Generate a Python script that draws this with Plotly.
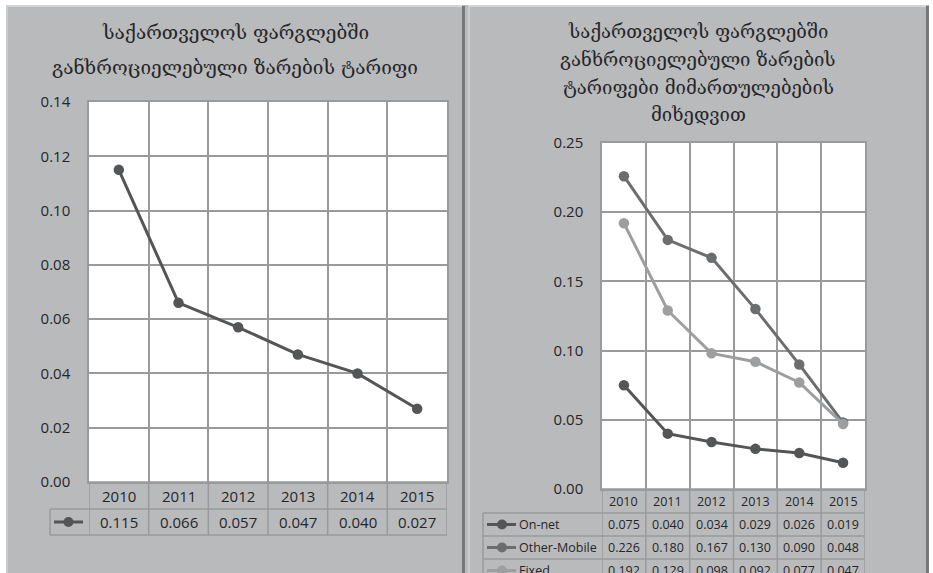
import plotly.graph_objects as go

# ---------------- data ----------------
years = ["2010", "2011", "2012", "2013", "2014", "2015"]
total_tariff = [0.115, 0.066, 0.057, 0.047, 0.040, 0.027]
series_names = ["On-net", "Other-Mobile", "Fixed"]
on_net = [0.075, 0.040, 0.034, 0.029, 0.026, 0.019]
other_mobile = [0.226, 0.180, 0.167, 0.130, 0.090, 0.048]
fixed = [0.192, 0.129, 0.098, 0.092, 0.077, 0.047]
left_title = ["საქართველოს ფარგლებში", "განხროციელებული ზარების ტარიფი"]
right_title = ["საქართველოს ფარგლებში", "განხროციელებული ზარების",
               "ტარიფები მიმართულებების", "მიხედვით"]

# ---------------- styling ----------------
W, H = 933, 573
def px(x):
    return x / W
def py(y):
    return 1 - y / H

PANEL = "#b9babc"
GRID = "#9a9a9c"
TEXT = "#262628"
NUM_FONT = "Open Sans"
GEO_FONT = "DejaVu Serif, DejaVu Sans"
series_colors = ["#545557", "#6c6d6f", "#9d9ea0"]
left_color = "#545557"

fig = go.Figure()

# left chart
fig.add_trace(go.Scatter(
    x=years, y=total_tariff, mode="lines+markers", xaxis="x", yaxis="y",
    line=dict(color=left_color, width=3),
    marker=dict(color=left_color, size=10.5),
    showlegend=False, cliponaxis=False))

# right chart
for name, vals, col in zip(series_names, [on_net, other_mobile, fixed], series_colors):
    fig.add_trace(go.Scatter(
        x=years, y=vals, mode="lines+markers", xaxis="x2", yaxis="y2", name=name,
        line=dict(color=col, width=3),
        marker=dict(color=col, size=10.5),
        showlegend=False, cliponaxis=False))

# axes geometry (pixels)
L = dict(x0=89, x1=447, y0=102, y1=482)
R = dict(x0=602, x1=865, y0=143, y1=489)

common_x = dict(type="category", tickson="boundaries", showgrid=True, gridcolor=GRID,
                gridwidth=1.5, showticklabels=False, ticks="", showline=True,
                linecolor=GRID, linewidth=1.5, mirror=True, zeroline=False,
                fixedrange=True, automargin=False)
common_y = dict(showgrid=True, gridcolor=GRID, gridwidth=1.5, ticks="", showline=True,
                linecolor=GRID, linewidth=1.5, mirror=True, zeroline=False,
                tickformat=".2f", ticklabelstandoff=14, automargin=False,
                tickfont=dict(family=NUM_FONT, size=15, color=TEXT), fixedrange=True)

fig.update_layout(
    width=W, height=H, margin=dict(l=0, r=0, t=0, b=0, pad=0), autosize=False,
    paper_bgcolor="white", plot_bgcolor="white",
    xaxis=dict(domain=[px(L["x0"]), px(L["x1"])], range=[-0.5, len(years) - 0.5], **common_x),
    yaxis=dict(domain=[py(L["y1"]), py(L["y0"])], range=[0, 0.14], dtick=0.02, **common_y),
    xaxis2=dict(domain=[px(R["x0"]), px(R["x1"])], range=[-0.5, len(years) - 0.5],
                anchor="y2", **common_x),
    yaxis2=dict(domain=[py(R["y1"]), py(R["y0"])], range=[0, 0.25], dtick=0.05,
                anchor="x2", **common_y),
)

shapes = []
def pline(x0, y0, x1, y1, color, width, layer="above"):
    shapes.append(dict(type="line", xref="paper", yref="paper", x0=px(x0), x1=px(x1),
                       y0=py(y0), y1=py(y1), line=dict(color=color, width=width), layer=layer))

# panels
shapes.append(dict(type="rect", xref="paper", yref="paper", x0=px(6), x1=px(465),
                   y0=py(H + 5), y1=py(5), fillcolor=PANEL, line=dict(width=0), layer="below"))
shapes.append(dict(type="rect", xref="paper", yref="paper", x0=px(465), x1=px(929),
                   y0=py(H + 5), y1=py(5), fillcolor=PANEL, line=dict(width=0), layer="below"))
# bevel highlights / shadows
for x0, x1 in [(6, 462), (468, 926)]:
    pline(x0, 6, x1, 6, "#d4d5d7", 2, "below")
    pline(x0 + 1, 6, x0 + 1, H + 5, "#cbcccd", 2, "below")
    pline(x1 + 1.5, 6, x1 + 1.5, H + 5, "#77787a", 3, "below")
# white plot areas
for g in (L, R):
    shapes.append(dict(type="rect", xref="paper", yref="paper", x0=px(g["x0"]), x1=px(g["x1"]),
                       y0=py(g["y1"]), y1=py(g["y0"]), fillcolor="white", line=dict(width=0),
                       layer="below"))

# ----- left data table -----
n = len(years)
tl_rows = [482, 509, 535]
for i in range(n + 1):
    shapes.append(dict(type="line", xref="x", yref="paper", x0=i - 0.5, x1=i - 0.5,
                       y0=py(tl_rows[0]), y1=py(tl_rows[-1]), line=dict(color=GRID, width=1.5)))
pline(50, tl_rows[1], 50, tl_rows[2], GRID, 1.5)
for j, yy in enumerate(tl_rows):
    pline(L["x0"] if j == 0 else 50, yy, L["x1"], yy, GRID, 1.5)
# key symbol
pline(54, 522, 83, 522, left_color, 3)
shapes.append(dict(type="circle", xref="paper", yref="paper", x0=px(63.5), x1=px(73.5),
                   y0=py(527), y1=py(517), fillcolor=left_color, line=dict(width=0)))

# ----- right data table -----
tr_rows = [489, 513, 536, 559, 582]
for i in range(n + 1):
    shapes.append(dict(type="line", xref="x2", yref="paper", x0=i - 0.5, x1=i - 0.5,
                       y0=py(tr_rows[0]), y1=py(tr_rows[-1]), line=dict(color=GRID, width=1.5)))
pline(483, tr_rows[1], 483, tr_rows[-1], GRID, 1.5)
for j, yy in enumerate(tr_rows):
    pline(R["x0"] if j == 0 else 483, yy, R["x1"], yy, GRID, 1.5)

annotations = []
def note(text, xref, x, y, size, family=NUM_FONT, xanchor="center"):
    annotations.append(dict(text=text, xref=xref, yref="paper", x=x, y=py(y), showarrow=False,
                            xanchor=xanchor, yanchor="middle",
                            font=dict(family=family, size=size, color=TEXT)))

# titles
for k, line in enumerate(left_title):
    note(line, "paper", px(235), 32 + 35 * k, 19, GEO_FONT)
for k, line in enumerate(right_title):
    note(line, "paper", px(698), 31 + 28 * k, 18.5, GEO_FONT)

# left table text
for i, (yr, v) in enumerate(zip(years, total_tariff)):
    note(yr, "x", i, 495.5, 15)
    note(f"{v:.3f}", "x", i, 522, 15)

# right table text
for i, yr in enumerate(years):
    note(yr, "x2", i, 501, 12.5)
for r, (name, vals, col) in enumerate(zip(series_names, [on_net, other_mobile, fixed], series_colors)):
    yc = (tr_rows[r + 1] + tr_rows[r + 2]) / 2
    for i, v in enumerate(vals):
        note(f"{v:.3f}", "x2", i, yc, 12.5)
    note(name, "paper", px(517), yc, 12.5, xanchor="left")
    pline(487, yc, 516, yc, col, 3)
    shapes.append(dict(type="circle", xref="paper", yref="paper", x0=px(497), x1=px(507),
                       y0=py(yc + 5), y1=py(yc - 5), fillcolor=col, line=dict(width=0)))

fig.update_layout(shapes=shapes, annotations=annotations)
fig.write_html("out.html", config={"displayModeBar": False},
               post_script="document.body.style.margin='0';document.body.style.overflow='hidden';")
